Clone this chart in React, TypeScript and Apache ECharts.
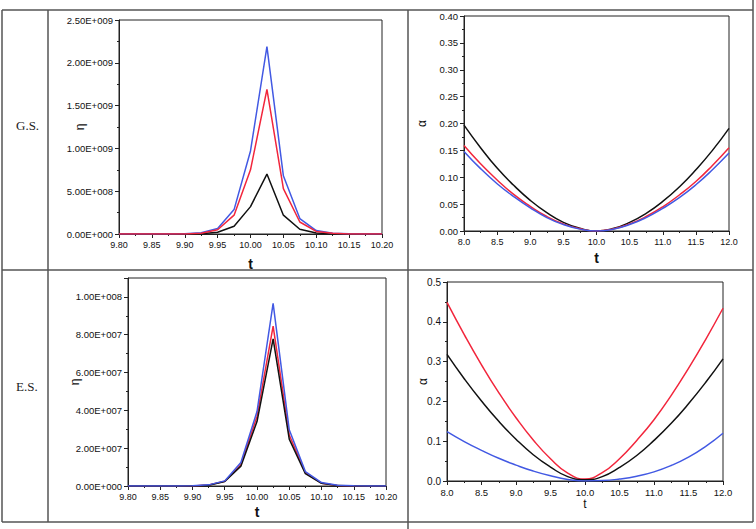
import React, { useEffect, useRef } from 'react';
import * as echarts from 'echarts';

// ---- data ----
const tEta = [9.8, 9.825, 9.85, 9.875, 9.9, 9.925, 9.95, 9.975, 10.0, 10.025, 10.05, 10.075, 10.1, 10.125, 10.15, 10.175, 10.2];
const gsEtaBlack = [0, 0, 0, 0, 0, 3e6, 2.0e7, 9.0e7, 3.2e8, 7.0e8, 2.2e8, 5.5e7, 1.2e7, 3e6, 0, 0, 0];
const gsEtaRed = [0, 0, 0, 0, 1e6, 9e6, 5.0e7, 2.2e8, 7.5e8, 1.69e9, 5.3e8, 1.4e8, 3.0e7, 8e6, 1e6, 0, 0];
const gsEtaBlue = [0, 0, 0, 0, 2e6, 1.5e7, 6.5e7, 2.85e8, 9.7e8, 2.19e9, 6.8e8, 1.8e8, 4.0e7, 1.0e7, 2e6, 0, 0];

const esEtaBlack = [0, 0, 0, 0, 0, 4e5, 2.4e6, 1.05e7, 3.41e7, 7.78e7, 2.48e7, 6.5e6, 1.4e6, 2e5, 0, 0, 0];
const esEtaRed = [0, 0, 0, 0, 0, 5e5, 2.5e6, 1.12e7, 3.68e7, 8.45e7, 2.7e7, 7.0e6, 1.5e6, 3e5, 0, 0, 0];
const esEtaBlue = [0, 0, 0, 0, 1e5, 6e5, 2.7e6, 1.24e7, 3.94e7, 9.66e7, 2.97e7, 7.6e6, 1.8e6, 4e5, 1e5, 0, 0];

const tAlpha = [8.0, 8.25, 8.5, 8.75, 9.0, 9.25, 9.5, 9.75, 10.0, 10.25, 10.5, 10.75, 11.0, 11.25, 11.5, 11.75, 12.0];
const gsAlphaBlack = [0.197, 0.155, 0.117, 0.085, 0.057, 0.034, 0.016, 0.005, 0.0, 0.0045, 0.016, 0.033, 0.055, 0.082, 0.114, 0.15, 0.191];
const gsAlphaRed = [0.159, 0.125, 0.095, 0.068, 0.046, 0.027, 0.013, 0.004, 0.0, 0.0037, 0.013, 0.027, 0.045, 0.067, 0.092, 0.122, 0.155];
const gsAlphaBlue = [0.148, 0.116, 0.088, 0.064, 0.043, 0.025, 0.012, 0.0035, 0.0, 0.0034, 0.012, 0.025, 0.042, 0.062, 0.086, 0.114, 0.145];

const esAlphaRed = [0.449, 0.368, 0.292, 0.222, 0.159, 0.103, 0.056, 0.02, 0.005, 0.021, 0.056, 0.102, 0.154, 0.215, 0.283, 0.356, 0.434];
const esAlphaBlack = [0.318, 0.257, 0.201, 0.15, 0.105, 0.066, 0.035, 0.011, 0.003, 0.011, 0.034, 0.064, 0.102, 0.145, 0.194, 0.248, 0.307];
const esAlphaBlue = [0.124, 0.099, 0.077, 0.057, 0.04, 0.025, 0.013, 0.004, 0.0, 0.001, 0.005, 0.012, 0.023, 0.039, 0.06, 0.087, 0.12];

const rowLabels = ['G.S.', 'E.S.'];

const BLACK = '#111111';
const RED = '#f2263c';
const BLUE = '#4259e3';
const SANS = '"Liberation Sans", Arial, sans-serif';
const SERIF = '"Liberation Serif", "Times New Roman", serif';

function sci(v: number): string {
  if (v === 0) return '0.00E+000';
  const e = Math.floor(Math.log10(Math.abs(v)) + 1e-9);
  const m = v / Math.pow(10, e);
  return m.toFixed(2) + 'E+' + String(e).padStart(3, '0');
}

function pairs(xs: number[], ys: number[]) {
  return xs.map((x, i) => [x, ys[i]]);
}

export default function App() {
  const ref = useRef<HTMLDivElement>(null);
  useEffect(() => {
    if (!ref.current) return;
    const chart = echarts.init(ref.current, undefined, { renderer: 'svg' });

    const grids = [
      { left: 119, top: 20, width: 263, height: 214 },
      { left: 464, top: 16, width: 265, height: 215 },
      { left: 128, top: 278, width: 258, height: 208 },
      { left: 447, top: 282, width: 276, height: 199 },
    ].map((g) => ({ ...g, show: true, borderColor: '#222', borderWidth: 1, backgroundColor: 'transparent' }));

    const axisCommon = (fontSize: number) => ({
      axisLine: { show: true, onZero: false, lineStyle: { color: '#222', width: 1 } },
      axisTick: { show: true, inside: false, length: 4, lineStyle: { color: '#222' } },
      minorTick: { show: true, splitNumber: 2, length: 2, lineStyle: { color: '#222' } },
      splitLine: { show: false },
      axisLabel: { fontSize, color: '#111', fontFamily: SANS, margin: 6 },
    });

    const xAxes = [
      { gridIndex: 0, min: 9.8, max: 10.2, interval: 0.05, fmt: (v: number) => v.toFixed(2), fs: 9, nameFs: 14, bold: true, gap: 23 },
      { gridIndex: 1, min: 8, max: 12, interval: 0.5, fmt: (v: number) => v.toFixed(1), fs: 9, nameFs: 14, bold: true, gap: 20 },
      { gridIndex: 2, min: 9.8, max: 10.2, interval: 0.05, fmt: (v: number) => v.toFixed(2), fs: 9, nameFs: 14, bold: true, gap: 19 },
      { gridIndex: 3, min: 8, max: 12, interval: 0.5, fmt: (v: number) => v.toFixed(1), fs: 9.5, nameFs: 12, bold: false, gap: 17 },
    ].map((a) => {
      const c = axisCommon(a.fs);
      return {
        type: 'value',
        gridIndex: a.gridIndex,
        min: a.min,
        max: a.max,
        interval: a.interval,
        ...c,
        axisLabel: { ...c.axisLabel, formatter: a.fmt },
        name: 't',
        nameLocation: 'middle',
        nameGap: a.gap,
        nameTextStyle: { fontSize: a.nameFs, fontWeight: a.bold ? 'bold' : 'normal', color: '#111', fontFamily: SANS },
      };
    });

    const yAxes = [
      { gridIndex: 0, min: 0, max: 2.5e9, interval: 5e8, fmt: (v: number) => sci(v), fs: 9.5, name: 'η', gap: 33 },
      { gridIndex: 1, min: 0, max: 0.4, interval: 0.05, fmt: (v: number) => v.toFixed(2), fs: 9.5, name: 'α', gap: 36 },
      { gridIndex: 2, min: 0, max: 1.1e8, interval: 2e7, fmt: (v: number) => (v > 1.05e8 ? '' : sci(v)), fs: 9.5, name: 'η', gap: 47 },
      { gridIndex: 3, min: 0, max: 0.5, interval: 0.1, fmt: (v: number) => v.toFixed(1), fs: 10, name: 'α', gap: 18 },
    ].map((a) => {
      const c = axisCommon(a.fs);
      return {
        type: 'value',
        gridIndex: a.gridIndex,
        min: a.min,
        max: a.max,
        interval: a.interval,
        ...c,
        axisLabel: { ...c.axisLabel, formatter: a.fmt },
        name: a.name,
        nameLocation: 'middle',
        nameGap: a.gap,
        nameMoveOverlap: false,
        nameTextStyle: { fontSize: 12, color: '#111', fontFamily: SANS },
      };
    });

    const line = (idx: number, xs: number[], ys: number[], color: string, smooth: boolean) => ({
      type: 'line',
      xAxisIndex: idx,
      yAxisIndex: idx,
      data: pairs(xs, ys),
      showSymbol: false,
      smooth,
      lineStyle: { color, width: 1.5 },
      itemStyle: { color },
      z: 3,
    });

    const series = [
      line(0, tEta, gsEtaBlack, BLACK, false),
      line(0, tEta, gsEtaBlue, BLUE, false),
      line(0, tEta, gsEtaRed, RED, false),
      line(1, tAlpha, gsAlphaBlack, BLACK, true),
      line(1, tAlpha, gsAlphaRed, RED, true),
      line(1, tAlpha, gsAlphaBlue, BLUE, true),
      line(2, tEta, esEtaRed, RED, false),
      line(2, tEta, esEtaBlack, BLACK, false),
      line(2, tEta, esEtaBlue, BLUE, false),
      line(3, tAlpha, esAlphaRed, RED, true),
      line(3, tAlpha, esAlphaBlack, BLACK, true),
      line(3, tAlpha, esAlphaBlue, BLUE, true),
    ];

    const border = { stroke: '#555', lineWidth: 1.5 };
    const seg = (x1: number, y1: number, x2: number, y2: number) => ({
      type: 'line',
      shape: { x1, y1, x2, y2 },
      style: border,
      silent: true,
      z: 10,
    });

    const graphic = [
      seg(2, 10, 753, 10),
      seg(2, 270, 753, 270),
      seg(2, 522, 753, 522),
      seg(2, 10, 2, 522),
      seg(48, 10, 48, 522),
      seg(408, 10, 408, 529),
      seg(753, 0, 753, 522),
      {
        type: 'text',
        left: 16,
        top: 119,
        style: { text: rowLabels[0], font: '13px ' + SERIF, fill: '#222' },
      },
      {
        type: 'text',
        left: 16,
        top: 380,
        style: { text: rowLabels[1], font: '13px ' + SERIF, fill: '#222' },
      },
    ];

    chart.setOption({
      animation: false,
      backgroundColor: '#ffffff',
      grid: grids,
      xAxis: xAxes,
      yAxis: yAxes,
      series,
      graphic,
    });
    return () => chart.dispose();
  }, []);

  return (
    <div
      ref={ref}
      style={{ position: 'absolute', left: 0, top: 0, width: 756, height: 529 }}
    />
  );
}
